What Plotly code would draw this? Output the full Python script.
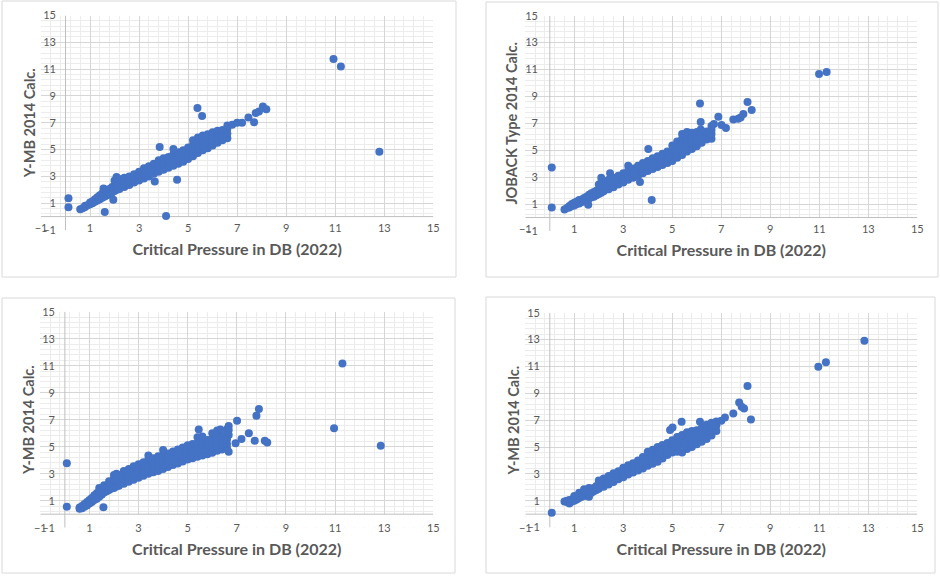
import plotly.graph_objects as go

# ---------------- data ----------------
p1_points = [
    (0.6, 0.55), (0.7, 0.62), (0.8, 0.72), (0.8, 0.8), (0.9, 0.85), (1.0, 0.92), (1.0, 1.05),
    (1.1, 1.0), (1.1, 1.15), (1.2, 1.1), (1.2, 1.3), (1.3, 1.2), (1.3, 1.45), (1.4, 1.3), (1.4, 1.6),
    (1.5, 1.4), (1.5, 1.75), (1.6, 1.5), (1.6, 1.95), (1.55, 2.1), (1.7, 1.6), (1.7, 2.0),
    (1.8, 1.7), (1.8, 2.05), (1.9, 1.8), (1.9, 2.2), (1.95, 1.25), (2.0, 1.9), (2.0, 2.3), (2.0, 2.7),
    (2.1, 2.0), (2.1, 2.4), (2.08, 2.95), (2.2, 2.05), (2.2, 2.45), (2.2, 2.8), (2.4, 2.2), (2.4, 2.6),
    (2.4, 2.9), (2.6, 2.35), (2.6, 2.7), (2.6, 3.0), (2.8, 2.55), (2.8, 2.9), (2.8, 3.15), (3.0, 2.7),
    (3.0, 3.05), (3.0, 3.35), (3.2, 2.85), (3.2, 3.2), (3.2, 3.6), (3.4, 3.0), (3.4, 3.35), (3.4, 3.75),
    (3.6, 3.2), (3.6, 3.55), (3.6, 3.95), (3.8, 3.35), (3.8, 3.75), (3.8, 4.2), (4.0, 3.5), (4.0, 3.9),
    (4.0, 4.35), (4.2, 3.65), (4.2, 4.05), (4.2, 4.45), (4.4, 3.8), (4.4, 4.2), (4.4, 4.65), (4.4, 5.05),
    (4.6, 3.95), (4.6, 4.35), (4.6, 4.8), (4.8, 4.1), (4.8, 4.5), (4.8, 4.95), (5.0, 4.3), (5.0, 4.7),
    (5.0, 5.15), (5.2, 4.5), (5.2, 4.9), (5.2, 5.35), (5.2, 5.7), (5.4, 4.75), (5.4, 5.1), (5.4, 5.5),
    (5.4, 5.9), (5.6, 4.95), (5.6, 5.3), (5.6, 5.65), (5.6, 6.05), (5.8, 5.1), (5.8, 5.45), (5.8, 5.8),
    (5.8, 6.15), (6.0, 5.3), (6.0, 5.65), (6.0, 6.0), (6.0, 6.3), (6.2, 5.5), (6.2, 5.85), (6.2, 6.2),
    (6.2, 6.4), (6.4, 5.7), (6.4, 6.05), (6.4, 6.45), (6.6, 5.85), (6.6, 6.2), (6.6, 6.55), (6.6, 6.8),
    (6.8, 6.85), (7.0, 7.0), (7.2, 7.0),
    (0.12, 1.37), (0.12, 0.70), (1.6, 0.35), (4.1, 0.05), (4.55, 2.74), (3.64, 2.62), (3.84, 5.2),
    (5.38, 8.1), (5.57, 7.5), (10.93, 11.75), (11.23, 11.2), (12.8, 4.83), (7.46, 7.4), (7.69, 7.04),
    (7.76, 7.72), (7.89, 7.84), (8.05, 8.21), (8.19, 8.01),
]

p2_points = [
    (0.6, 0.6), (0.7, 0.7), (0.8, 0.75), (0.8, 0.85), (0.9, 0.85), (0.9, 1.0), (1.0, 0.9), (1.0, 1.1),
    (1.1, 1.0), (1.1, 1.2), (1.2, 1.05), (1.2, 1.3), (1.3, 1.15), (1.3, 1.35), (1.4, 1.2), (1.4, 1.45),
    (1.5, 1.3), (1.5, 1.55), (1.6, 1.4), (1.6, 1.7), (1.7, 1.5), (1.7, 1.8), (1.8, 1.55), (1.8, 1.9),
    (1.9, 1.65), (1.9, 2.0), (2.0, 1.75), (2.0, 2.1), (2.0, 2.45), (2.1, 1.85), (2.1, 2.2), (2.1, 2.6),
    (2.1, 2.95), (2.2, 1.95), (2.2, 2.3), (2.2, 2.65), (2.4, 2.1), (2.4, 2.45), (2.4, 2.8), (2.46, 3.3),
    (2.6, 2.25), (2.6, 2.6), (2.6, 2.95), (2.8, 2.45), (2.8, 2.8), (2.8, 3.1), (3.0, 2.6), (3.0, 2.95),
    (3.0, 3.3), (3.2, 2.8), (3.2, 3.15), (3.2, 3.5), (3.2, 3.85), (3.4, 2.95), (3.4, 3.3), (3.4, 3.65),
    (3.6, 3.1), (3.6, 3.45), (3.6, 3.85), (3.8, 3.3), (3.8, 3.65), (3.8, 4.05), (4.0, 3.45), (4.0, 3.8),
    (4.0, 4.2), (4.2, 3.6), (4.2, 4.0), (4.2, 4.4), (4.4, 3.75), (4.4, 4.15), (4.4, 4.55), (4.6, 3.9),
    (4.6, 4.3), (4.6, 4.75), (4.8, 4.05), (4.8, 4.45), (4.8, 4.9), (5.0, 4.2), (5.0, 4.6), (5.0, 5.0),
    (5.0, 5.35), (5.2, 4.45), (5.2, 4.85), (5.2, 5.25), (5.2, 5.65), (5.4, 4.65), (5.4, 5.05),
    (5.4, 5.45), (5.4, 5.85), (5.4, 6.2), (5.6, 4.9), (5.6, 5.3), (5.6, 5.7), (5.6, 6.05), (5.6, 6.35),
    (5.8, 5.1), (5.8, 5.5), (5.8, 5.9), (5.8, 6.3), (6.0, 5.3), (6.0, 5.7), (6.0, 6.05), (6.0, 6.35),
    (6.2, 5.55), (6.2, 5.9), (6.2, 6.25), (6.4, 5.8), (6.4, 6.1), (6.4, 6.4), (6.6, 5.85), (6.6, 6.2),
    (6.6, 6.5), (6.6, 6.8), (6.7, 6.95),
    (0.08, 3.72), (0.08, 0.75), (4.16, 1.3), (3.68, 2.65), (4.02, 5.1), (1.57, 0.95), (6.13, 8.48),
    (6.16, 7.1), (6.16, 6.55), (6.88, 7.49), (7.01, 6.87), (7.19, 6.65), (7.49, 7.29), (7.69, 7.34),
    (7.79, 7.44), (7.9, 7.69), (8.07, 8.58), (8.24, 7.99), (10.99, 10.66), (11.3, 10.81),
]

p3_points = [
    (0.6, 0.4), (0.6, 0.5), (0.7, 0.45), (0.7, 0.6), (0.8, 0.55), (0.8, 0.75), (0.9, 0.65), (0.9, 0.9),
    (1.0, 0.8), (1.0, 1.05), (1.1, 0.9), (1.1, 1.2), (1.2, 1.05), (1.2, 1.4), (1.3, 1.15), (1.3, 1.55),
    (1.4, 1.3), (1.4, 1.7), (1.4, 1.95), (1.5, 1.45), (1.5, 1.8), (1.6, 1.6), (1.6, 1.95), (1.6, 2.15),
    (1.7, 1.7), (1.7, 2.05), (1.8, 1.8), (1.8, 2.15), (1.8, 2.45), (1.9, 1.9), (1.9, 2.25),
    (2.0, 1.95), (2.0, 2.3), (2.0, 2.65), (2.0, 2.9), (2.1, 2.05), (2.1, 2.45), (2.1, 2.8), (2.1, 3.0),
    (2.2, 2.1), (2.2, 2.5), (2.2, 2.9), (2.4, 2.25), (2.4, 2.65), (2.4, 3.05), (2.4, 3.2),
    (2.6, 2.4), (2.6, 2.75), (2.6, 3.1), (2.6, 3.35), (2.8, 2.55), (2.8, 2.9), (2.8, 3.25), (2.8, 3.55),
    (3.0, 2.7), (3.0, 3.05), (3.0, 3.4), (3.0, 3.7), (3.2, 2.85), (3.2, 3.2), (3.2, 3.55), (3.2, 3.85),
    (3.4, 3.0), (3.4, 3.35), (3.4, 3.7), (3.4, 4.05), (3.4, 4.35), (3.6, 3.1), (3.6, 3.45), (3.6, 3.8),
    (3.6, 4.15), (3.8, 3.2), (3.8, 3.6), (3.8, 3.95), (3.8, 4.3), (4.0, 3.35), (4.0, 3.7), (4.0, 4.05),
    (4.0, 4.4), (4.0, 4.75), (4.2, 3.5), (4.2, 3.85), (4.2, 4.2), (4.2, 4.5), (4.4, 3.65), (4.4, 4.0),
    (4.4, 4.35), (4.4, 4.65), (4.6, 3.75), (4.6, 4.1), (4.6, 4.45), (4.6, 4.8), (4.8, 3.9), (4.8, 4.25),
    (4.8, 4.6), (4.8, 4.95), (5.0, 4.05), (5.0, 4.4), (5.0, 4.75), (5.0, 5.1), (5.2, 4.15), (5.2, 4.5),
    (5.2, 4.85), (5.2, 5.2), (5.4, 4.25), (5.4, 4.6), (5.4, 4.95), (5.4, 5.3), (5.4, 5.7), (5.6, 4.35),
    (5.6, 4.7), (5.6, 5.05), (5.6, 5.4), (5.6, 5.75), (5.8, 4.45), (5.8, 4.8), (5.8, 5.15), (5.8, 5.5),
    (6.0, 4.55), (6.0, 4.9), (6.0, 5.25), (6.0, 5.6), (6.0, 6.0), (6.2, 4.7), (6.2, 5.0), (6.2, 5.35),
    (6.2, 5.7), (6.2, 6.2), (6.4, 4.8), (6.4, 5.1), (6.4, 5.45), (6.4, 5.8), (6.6, 4.9), (6.6, 5.2),
    (6.6, 5.55), (6.6, 5.95), (6.6, 6.3),
    (0.08, 3.77), (0.08, 0.56), (1.57, 0.52), (11.3, 11.17), (10.96, 6.36), (12.86, 5.07), (7.9, 7.79),
    (7.8, 7.3), (7.49, 5.99), (7.73, 5.44), (7.19, 5.57), (6.95, 5.25), (7.01, 6.93), (8.14, 5.44),
    (8.24, 5.32), (6.67, 4.63), (5.45, 6.28), (6.67, 6.53), (6.67, 6.23), (6.67, 5.86), (6.33, 6.28),
]

p4_points = [
    (0.6, 0.95), (0.7, 0.9), (0.7, 1.0), (0.8, 0.8), (0.8, 0.95), (0.8, 1.05), (0.9, 0.95), (0.9, 1.1),
    (1.0, 1.0), (1.0, 1.2), (1.0, 1.35), (1.1, 1.1), (1.1, 1.3), (1.2, 1.2), (1.2, 1.4), (1.2, 1.6),
    (1.3, 1.3), (1.3, 1.5), (1.4, 1.35), (1.4, 1.6), (1.4, 1.85), (1.5, 1.45), (1.5, 1.7), (1.6, 1.3),
    (1.6, 1.55), (1.6, 1.8), (1.6, 1.95), (1.7, 1.6), (1.7, 1.9), (1.8, 1.7), (1.8, 1.95), (1.9, 1.8),
    (1.9, 2.1), (2.0, 1.9), (2.0, 2.2), (2.0, 2.5), (2.2, 2.05), (2.2, 2.35), (2.2, 2.65), (2.4, 2.2),
    (2.4, 2.5), (2.4, 2.85), (2.6, 2.4), (2.6, 2.7), (2.6, 3.05), (2.8, 2.6), (2.8, 2.9), (2.8, 3.2),
    (3.0, 2.75), (3.0, 3.1), (3.0, 3.45), (3.2, 2.95), (3.2, 3.3), (3.2, 3.65), (3.4, 3.1), (3.4, 3.45),
    (3.4, 3.8), (3.6, 3.25), (3.6, 3.6), (3.6, 4.0), (3.8, 3.4), (3.8, 3.8), (3.8, 4.25), (4.0, 3.6),
    (4.0, 3.95), (4.0, 4.35), (4.0, 4.65), (4.2, 3.75), (4.2, 4.1), (4.2, 4.5), (4.2, 4.8), (4.4, 3.9),
    (4.4, 4.3), (4.4, 4.7), (4.4, 5.0), (4.6, 4.15), (4.6, 4.5), (4.6, 4.85), (4.6, 5.15), (4.8, 4.4),
    (4.8, 4.7), (4.8, 5.0), (4.8, 5.3), (5.0, 4.6), (5.0, 4.9), (5.0, 5.2), (5.0, 5.5), (5.2, 4.65),
    (5.2, 5.0), (5.2, 5.35), (5.2, 5.75), (5.4, 4.6), (5.4, 5.15), (5.4, 5.5), (5.4, 5.9), (5.6, 4.85),
    (5.6, 5.3), (5.6, 5.7), (5.6, 6.1), (5.8, 5.0), (5.8, 5.45), (5.8, 5.85), (5.8, 6.2), (6.0, 5.2),
    (6.0, 5.6), (6.0, 6.0), (6.0, 6.25), (6.2, 5.4), (6.2, 5.8), (6.2, 6.2), (6.2, 6.4), (6.4, 5.6),
    (6.4, 6.0), (6.4, 6.4), (6.4, 6.65), (6.6, 5.85), (6.6, 6.2), (6.6, 6.55), (6.6, 6.8), (6.8, 6.2),
    (6.8, 6.6), (6.8, 6.9), (7.0, 6.95),
    (0.08, 0.1), (12.84, 12.91), (10.96, 10.98), (11.27, 11.32), (8.07, 9.54), (8.21, 7.05),
    (7.73, 8.32), (7.83, 8.0), (7.93, 7.87), (7.49, 7.5), (7.15, 7.2), (6.13, 6.88), (5.38, 6.88),
    (4.91, 6.26), (5.01, 6.46),
]

x_title = "Critical Pressure in DB (2022)"
y_titles = ["Y-MB 2014 Calc.", "JOBACK Type 2014 Calc.", "Y-MB 2014 Calc.", "Y-MB 2014 Calc."]
tick_values = [-1, 1, 3, 5, 7, 9, 11, 13, 15]
axis_range = [-1, 15]

# ---------------- layout geometry (pixels) ----------------
W, H = 940, 576
panels = [
    dict(pts=p1_points, plot=(41.0, 15.5, 433.3, 230.0), box=(2, 1, 456, 277), xpos=220, ypos=56),
    dict(pts=p2_points, plot=(525.3, 15.7, 917.3, 231.0), box=(486, 2, 938, 277), xpos=221, ypos=538),
    dict(pts=p3_points, plot=(40.3, 311.7, 433.3, 527.7), box=(2, 298, 455, 573), xpos=520, ypos=55),
    dict(pts=p4_points, plot=(525.3, 312.7, 917.3, 527.6), box=(486, 297, 935, 573), xpos=520, ypos=540),
]

GRID = "#d6d6d6"
MINOR = "#ececec"
AXIS = "#bfbfbf"
TXT = "#595959"
BLUE = "#4472C4"
FONT = "Lato"

fig = go.Figure()
layout = dict(
    width=W, height=H, margin=dict(l=0, r=0, t=0, b=0, autoexpand=False),
    paper_bgcolor="white", plot_bgcolor="white", showlegend=False,
    font=dict(family=FONT, color=TXT),
)
shapes = []

for i, p in enumerate(panels):
    n = "" if i == 0 else str(i + 1)
    xa, ya = "x" + n, "y" + n
    L, T, R, B = p["plot"]
    fig.add_trace(go.Scatter(
        x=[q[0] for q in p["pts"]], y=[q[1] for q in p["pts"]],
        mode="markers", xaxis=xa, yaxis=ya,
        marker=dict(color=BLUE, size=8, line=dict(width=0)),
        hoverinfo="x+y",
    ))
    common = dict(
        range=axis_range, tickmode="array", tickvals=tick_values,
        showgrid=True, gridcolor=GRID, gridwidth=1,
        minor=dict(tick0=-1, dtick=0.4, showgrid=True, gridcolor=MINOR, gridwidth=1),
        zeroline=False, showline=False, ticks="",
        tickfont=dict(family=FONT, size=11, color=TXT),
        anchor="free", fixedrange=True, automargin=False,
    )
    layout["xaxis" + n] = dict(
        common, domain=[L / W, R / W], position=1 - p["xpos"] / H,
        title=dict(text=x_title, standoff=10,
                   font=dict(family=FONT, size=16, color=TXT, weight="bold")),
    )
    layout["yaxis" + n] = dict(
        common, domain=[1 - B / H, 1 - T / H], position=p["ypos"] / W,
        title=dict(text=y_titles[i], standoff=3,
                   font=dict(family=FONT, size=14.5, color=TXT, weight="bold")),
    )
    # hide grid below the horizontal axis (y < 0)
    shapes.append(dict(type="rect", xref=xa, yref=ya, x0=-1, x1=15, y0=-1, y1=0,
                       fillcolor="white", line=dict(width=0), layer="between"))
    # axes crossing at zero
    shapes.append(dict(type="line", xref=xa, yref=ya, x0=0, x1=0, y0=-1, y1=15,
                       line=dict(color=AXIS, width=1), layer="between"))
    shapes.append(dict(type="line", xref=xa, yref=ya, x0=-1, x1=15, y0=0, y1=0,
                       line=dict(color=AXIS, width=1), layer="between"))
    # panel border
    bl, bt, br, bb = p["box"]
    shapes.append(dict(type="rect", xref="paper", yref="paper",
                       x0=bl / W, x1=br / W, y0=1 - bb / H, y1=1 - bt / H,
                       line=dict(color="#d9d9d9", width=1), fillcolor="rgba(0,0,0,0)"))

layout["shapes"] = shapes
fig.update_layout(**layout)
fig.write_html(
    "out.html",
    config={"displayModeBar": False, "staticPlot": True},
    post_script="document.body.style.margin='0';document.body.style.overflow='hidden';",
)
